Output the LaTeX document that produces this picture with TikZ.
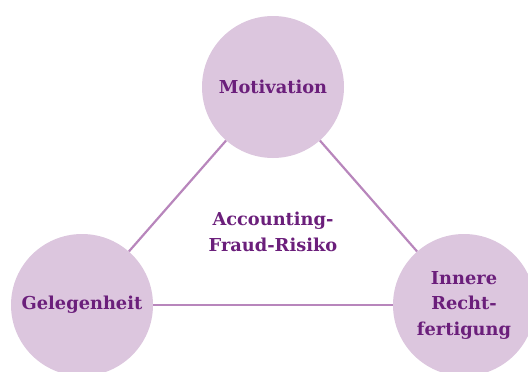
\documentclass[tikz,border=0pt]{standalone}
\usepackage{fontspec}
\setmainfont{DejaVu Serif}
\definecolor{circfill}{HTML}{DCC6DE}
\definecolor{txtpurple}{HTML}{6B1F7B}
\definecolor{linepurple}{HTML}{B886BC}
\begin{document}
\begin{tikzpicture}[x=1pt,y=-1pt,
  bubble/.style={circle,fill=circfill,minimum size=142pt,inner sep=0pt,
    font=\bfseries\fontsize{17.8}{25.5}\selectfont,text=txtpurple,align=center},
  label/.style={font=\bfseries\fontsize{17.8}{25.5}\selectfont,text=txtpurple,align=center},
  conn/.style={draw=linepurple,line width=2.2pt}]
\useasboundingbox (0,0) rectangle (528,372);
\node[bubble] (mot) at (273,87) {Motivation};
\node[bubble] (gel) at (82,305) {Gelegenheit};
\node[bubble] (inn) at (464,305) {Innere\\Recht-\\fertigung};
\node[label] (afr) at (273,232) {Accounting-\\Fraud-Risiko};
\draw[conn] (mot) -- (gel);
\draw[conn] (mot) -- (inn);
\draw[conn] (gel) -- (inn);
\end{tikzpicture}
\end{document}
